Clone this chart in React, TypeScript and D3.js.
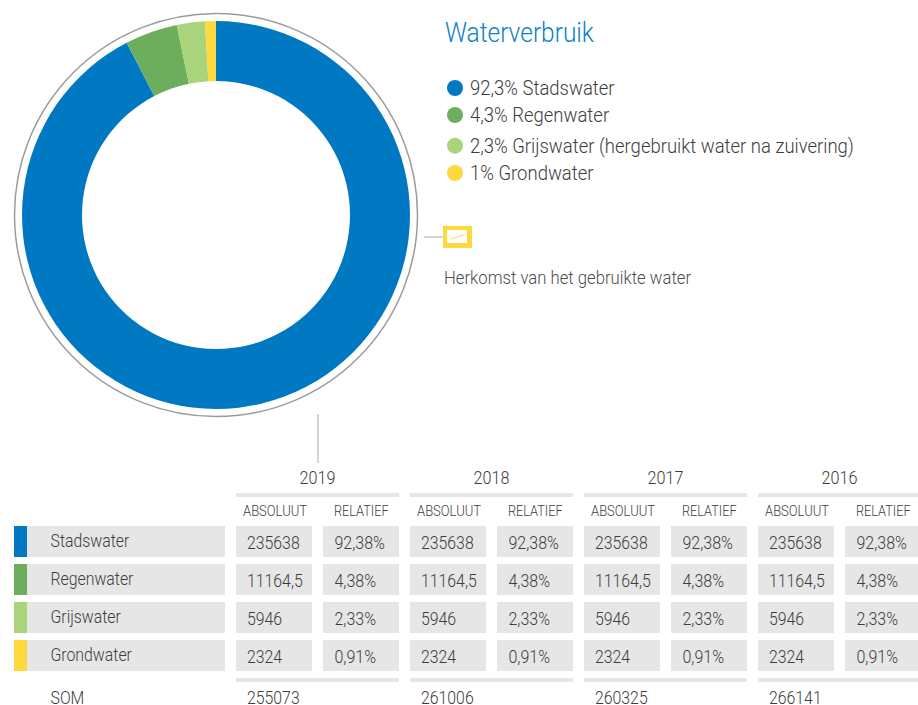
import React from "react";
import * as d3 from "d3";

const categories = ["Stadswater", "Regenwater", "Grijswater", "Grondwater"];
const colors = ["#0079c2", "#6cae5c", "#a9d47c", "#ffd83e"];
const donutValues = [235638, 11164.5, 5946, 2324];
const legendLabels = [
  "92,3% Stadswater",
  "4,3% Regenwater",
  "2,3% Grijswater (hergebruikt water na zuivering)",
  "1% Grondwater",
];
const years = ["2019", "2018", "2017", "2016"];
const absolute = ["235638", "11164,5", "5946", "2324"];
const relative = ["92,38%", "4,38%", "2,33%", "0,91%"];
const sums = ["255073", "261006", "260325", "266141"];
const sparkline = [0, 2.5, 1.5, 3, 4.5, 4, 6];

const W = 918;
const H = 705;
const FONT = "Roboto, sans-serif";
const TEXT = "#3d3d3d";
const GREY = "#e6e6e6";

function T(props: {
  x: number; y: number; size: number; sx?: number; fill?: string; anchor?: string; weight?: number; children: React.ReactNode;
}) {
  const { x, y, size, sx = 0.9, fill = TEXT, anchor = "start", weight = 300, children } = props;
  return (
    <text
      transform={`translate(${x},${y}) scale(${sx},1)`}
      fontFamily={FONT}
      fontWeight={weight}
      fontSize={size}
      fill={fill}
      textAnchor={anchor}
    >
      {children}
    </text>
  );
}

export default function App() {
  const cx = 216;
  const cy = 215;
  const pie = d3.pie<number>().sort(null).value((d) => d);
  const arc = d3.arc<d3.PieArcDatum<number>>().innerRadius(134).outerRadius(194);
  const arcs = pie(donutValues);

  const legendOffsets = [88, 115, 145.7, 173];

  const groupX = d3.scaleLinear().domain([0, 3]).range([236, 758]);
  const rowY = d3.scaleLinear().domain([0, 3]).range([526, 640]);
  const rowH = 31;
  const cellW = 76;
  const relOff = 87;

  const sparkX = d3.scaleLinear().domain([0, sparkline.length - 1]).range([450, 465]);
  const sparkY = d3.scaleLinear().domain([0, 6]).range([240, 234]);
  const sparkPath = d3.line<number>().x((_, i) => sparkX(i)).y((d) => sparkY(d)).curve(d3.curveBasis)(sparkline) || "";

  return (
    <svg width={W} height={H} viewBox={`0 0 ${W} ${H}`} style={{ position: "fixed", left: 0, top: 0, display: "block", background: "#fff" }}>
      <circle cx={cx} cy={cy} r={201.5} fill="none" stroke="#9b9b9b" strokeWidth={1.5} />
      <g transform={`translate(${cx},${cy})`}>
        {arcs.map((a, i) => (
          <path key={i} d={arc(a) || ""} fill={colors[i]} />
        ))}
      </g>

      <T x={445} y={42} size={27.5} fill="#0a82c8" sx={0.89}>Waterverbruik</T>
      {legendLabels.map((l, i) => (
        <g key={l}>
          <circle cx={455} cy={legendOffsets[i]} r={8} fill={colors[i]} />
          <T x={470} y={legendOffsets[i] + 7} size={20} sx={0.925}>{l}</T>
        </g>
      ))}

      <line x1={424} x2={443} y1={237} y2={237} stroke="#a8a8a8" strokeWidth={1} />
      <rect x={443} y={226} width={29} height={22} fill="#ffd83e" />
      <rect x={447} y={230} width={20} height={13} fill="#fff" />
      <path d={sparkPath} fill="none" stroke="#ffd83e" strokeWidth={1} />
      <T x={444} y={284} size={17.5} sx={0.955} fill="#4d4d4d">Herkomst van het gebruikte water</T>

      <line x1={318} x2={318} y1={414} y2={463} stroke="#a8a8a8" strokeWidth={1} />

      {categories.map((c, i) => (
        <g key={c}>
          <rect x={14} y={rowY(i)} width={211} height={rowH} fill={GREY} />
          <rect x={14} y={rowY(i)} width={13} height={rowH} fill={colors[i]} />
          <T x={50.5} y={rowY(i) + 21.3} size={18} sx={0.88}>{c}</T>
        </g>
      ))}
      <T x={50.5} y={704} size={18} sx={0.88}>SOM</T>

      {years.map((year, g) => {
        const x0 = groupX(g);
        return (
          <g key={year}>
            <T x={x0 + 81.5} y={484} size={18} sx={0.9} anchor="middle">{year}</T>
            <rect x={x0} y={493} width={cellW * 2 + 11} height={4} fill={GREY} />
            <T x={x0 + 7} y={516} size={15.5} sx={0.84}>ABSOLUUT</T>
            <T x={x0 + relOff + 11} y={516} size={15.5} sx={0.82}>RELATIEF</T>
            {absolute.map((v, i) => (
              <g key={i}>
                <rect x={x0} y={rowY(i)} width={cellW} height={rowH} fill={GREY} />
                <rect x={x0 + relOff} y={rowY(i)} width={cellW} height={rowH} fill={GREY} />
                <T x={x0 + 11} y={rowY(i) + 23} size={18} sx={0.88}>{v}</T>
                <T x={x0 + relOff + 11.5} y={rowY(i) + 23} size={18} sx={0.89}>{relative[i]}</T>
              </g>
            ))}
            <rect x={x0} y={678} width={cellW * 2 + 11} height={4} fill={GREY} />
            <T x={x0 + 11} y={704} size={18} sx={0.88}>{sums[g]}</T>
          </g>
        );
      })}
    </svg>
  );
}
